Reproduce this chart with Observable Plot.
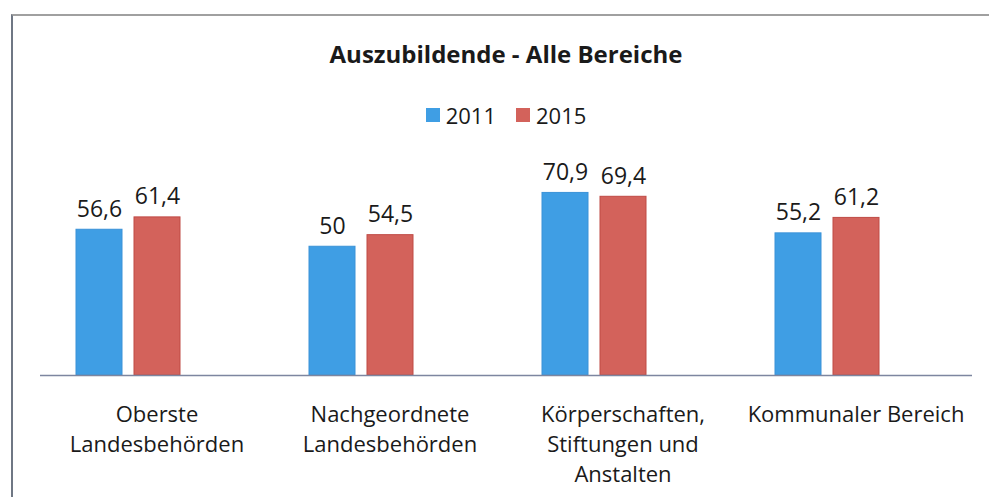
<!DOCTYPE html>
<html><head><meta charset="utf-8">
<script src="https://cdn.jsdelivr.net/npm/d3@7"></script>
<script src="https://cdn.jsdelivr.net/npm/@observablehq/plot@0.6"></script>
<style>
body{margin:0;background:#fff;overflow:hidden;width:989px;height:497px;position:relative;font-family:"Open Sans",sans-serif;color:#1a1a1a}
#frame{position:absolute;left:11px;top:14px;width:1000px;height:520px;border-left:2px solid #6f7784;border-top:2px solid #a0a0a0;box-sizing:border-box}
#title{position:absolute;left:40px;width:932px;top:37px;height:34px;line-height:34px;text-align:center;font-weight:700;font-size:24px}
#legend{position:absolute;left:40px;width:932px;top:99px;height:32px;display:flex;justify-content:center;align-items:center}
#legend .lg-swatches{font-family:"Open Sans",sans-serif;font-size:22px;color:#1a1a1a;margin:0;justify-content:center}
#legend .lg-swatch{margin-right:20px}
#legend .lg-swatch:last-child{margin-right:0}
#legend .lg-swatch > svg{margin-right:6px}
#chart{position:absolute;left:0;top:135px}
</style>
</head><body>
<div id="frame"></div>
<div id="title">Auszubildende - Alle Bereiche</div>
<div id="legend"></div>
<div id="chart"></div>
<script>
const categories = ["Oberste\nLandesbehörden", "Nachgeordnete\nLandesbehörden", "Körperschaften,\nStiftungen und\nAnstalten", "Kommunaler Bereich"];
const years = ["2011", "2015"];
const values2011 = [56.6, 50, 70.9, 55.2];
const values2015 = [61.4, 54.5, 69.4, 61.2];
const fillColors = ["#3f9ee4", "#d3625b"];
const strokeColors = ["#3a92d8", "#bf4a45"];
const slots = ["2011", "2015", "(leer)"];

const data = categories.flatMap((c, i) => [
  {category: c, year: years[0], value: values2011[i]},
  {category: c, year: years[1], value: values2015[i]}
]);
const fmt = v => String(v).replace(".", ",");

const legend = Plot.legend({
  color: {domain: years, range: fillColors},
  legend: "swatches",
  swatchSize: 14,
  className: "lg"
});
document.getElementById("legend").appendChild(legend);

const plot = Plot.plot({
  width: 989,
  height: 362,
  marginLeft: 40,
  marginRight: 17,
  marginTop: 34,
  marginBottom: 122,
  style: {fontFamily: '"Open Sans", sans-serif', fontSize: "22px", color: "#1a1a1a", background: "transparent", overflow: "visible"},
  fx: {domain: categories, padding: 0, axis: null},
  x: {domain: slots, paddingInner: 0.207, paddingOuter: 0.612, axis: null},
  y: {domain: [0, 80], axis: null},
  color: {domain: years, range: fillColors},
  marks: [
    Plot.barY(data, {fx: "category", x: "year", y: "value", fill: "year", stroke: d => strokeColors[years.indexOf(d.year)], strokeWidth: 1}),
    Plot.text(data, {fx: "category", x: "year", y: "value", text: d => fmt(d.value), lineAnchor: "bottom", dy: -13, fontSize: 23, fill: "#1a1a1a"}),
    Plot.ruleY([0], {stroke: "#7d86a0", strokeWidth: 1.5}),
    Plot.text(categories, {fx: d => d, y: 0, text: d => d, lineAnchor: "top", dy: 25, lineHeight: 1.364, fontSize: 22, fill: "#1a1a1a", textAnchor: "middle"})
  ]
});
document.getElementById("chart").appendChild(plot);
</script>
</body></html>
